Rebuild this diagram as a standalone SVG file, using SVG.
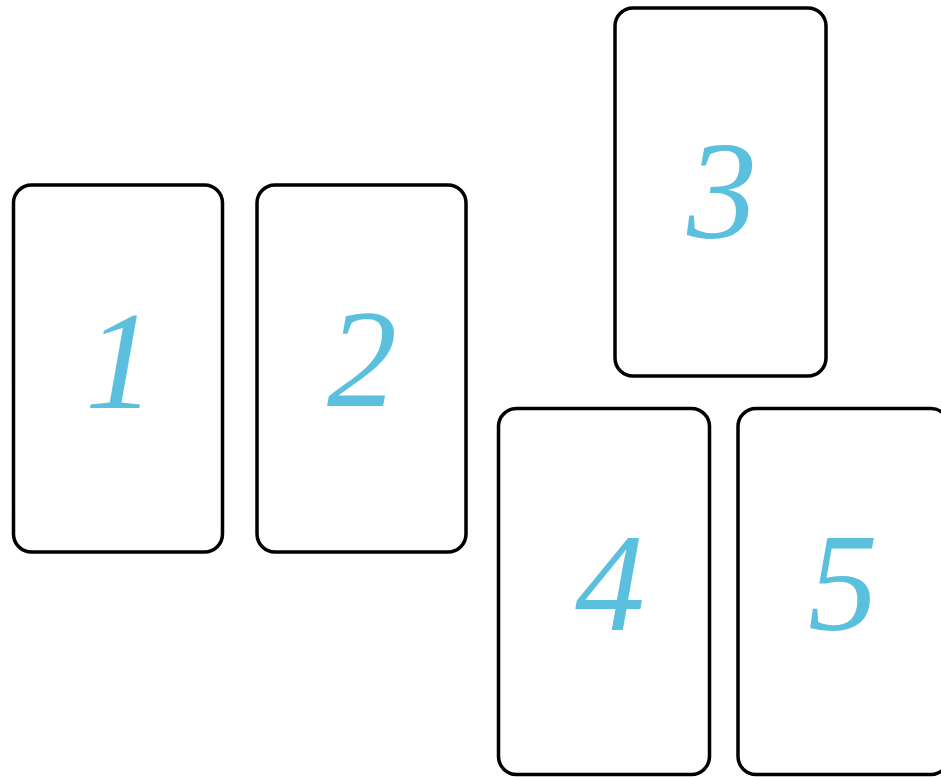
<svg xmlns="http://www.w3.org/2000/svg" width="941" height="777" viewBox="0 0 941 777">
<style>
.card{fill:#fff;stroke:#000;stroke-width:3.5}
.num{font-family:"Liberation Serif","DejaVu Serif",serif;font-style:italic;font-size:140px;fill:#5bc0de;text-anchor:middle}
</style>
<rect width="941" height="777" fill="#fff"/>
<g id="card1"><rect class="card" x="13.5" y="185" width="209" height="367" rx="18"/><text class="num" x="120" y="408">1</text></g>
<g id="card2"><rect class="card" x="257" y="185" width="209" height="367" rx="18"/><text class="num" x="362" y="406">2</text></g>
<g id="card3"><rect class="card" x="615" y="8" width="211" height="368" rx="18"/><text class="num" x="722" y="238">3</text></g>
<g id="card4"><rect class="card" x="498.5" y="408.5" width="211" height="366" rx="18"/><text class="num" x="610" y="630">4</text></g>
<g id="card5"><rect class="card" x="738" y="408.5" width="211" height="366" rx="18"/><text class="num" x="843" y="630">5</text></g>
<g id="connectors"/>
</svg>
